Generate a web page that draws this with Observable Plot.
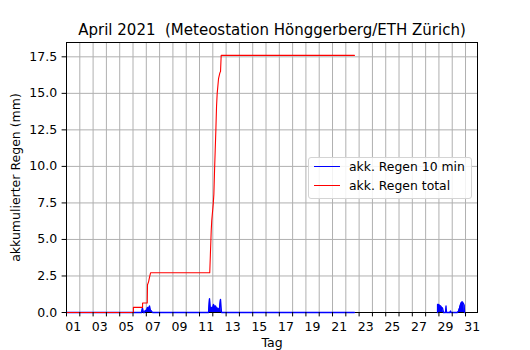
<!DOCTYPE html>
<html>
<head>
<meta charset="utf-8">
<script src="https://cdn.jsdelivr.net/npm/d3@7"></script>
<script src="https://cdn.jsdelivr.net/npm/@observablehq/plot@0.6"></script>
<style>
  html, body { margin: 0; padding: 0; background: white; }
  #chart { position: relative; width: 530px; height: 350px; font-family: "DejaVu Sans", sans-serif; }
  .legend { position: absolute; left: 308px; top: 157px; width: 162px; height: 40px;
            border: 1px solid #d4d4d4; border-radius: 3px; background: rgba(255,255,255,0.85); }
  .legend .sw { position: absolute; left: 5px; width: 26px; height: 1.3px; }
  .legend .lb { position: absolute; left: 40px; font-size: 12.4px; line-height: 14px; color: black; white-space: nowrap; }
</style>
</head>
<body>
<div id="chart"></div>
<script>
// ---- Data (day of April 2021 as fractional day; 1.0 = 1 April 00:00) ----
const titleText = "April 2021  (Meteostation Hönggerberg/ETH Zürich)";
const xLabelText = "Tag";
const yLabelText = "akkumulierter Regen (mm)";
const seriesNames = ["akk. Regen 10 min", "akk. Regen total"];
const seriesColors = ["blue", "red"];

const tickDays = [1,2,3,4,5,6,7,8,9,10,11,12,13,14,15,16,17,18,19,20,21,22,23,24,25,26,27,28,29,30,31];
const labelDays = [1,3,5,7,9,11,13,15,17,19,21,23,25,27,29,31];
const labelTexts = ["01","03","05","07","09","11","13","15","17","19","21","23","25","27","29","31"];
const yTicks = [0, 2.5, 5, 7.5, 10, 12.5, 15, 17.5];

// akk. Regen 10 min (blue)
const blueDay = [1, 6.639, 6.714, 6.789, 6.865, 6.940, 7.015, 7.090, 7.165, 7.241, 7.316, 7.391, 7.466,
  11.677, 11.752, 11.827, 11.902, 11.977, 12.053, 12.128, 12.203, 12.278, 12.353, 12.429, 12.504, 12.579, 12.654,
  22.65, 25,
  28.895, 28.895, 28.970, 29.045, 29.120, 29.195, 29.271, 29.346, 29.496, 29.534, 29.571, 29.835, 29.872, 29.910,
  30.398, 30.474, 30.549, 30.624, 30.699, 30.774, 30.850, 30.902, 30.925];
const blueVal = [0, 0, 0.3, 0, 0, 0.15, 0.1, 0.35, 0.2, 0.45, 0.15, 0.1, 0,
  0, 0.95, 0.2, 0.35, 0.25, 0.55, 0.4, 0.45, 0.3, 0.3, 0.2, 0.3, 0.9, 0,
  0, NaN,
  0, 0.55, 0.55, 0.5, 0.45, 0.35, 0.3, 0, 0, 0.45, 0, 0, 0.1, 0,
  0, 0.1, 0.3, 0.55, 0.7, 0.72, 0.6, 0.5, 0];

// akk. Regen total (red)
const redDay = [1, 6.03, 6.03, 6.72, 6.72, 7.07, 7.09, 7.17, 7.24, 7.32,
  11.77, 11.88, 11.92, 12.03, 12.08, 12.13, 12.18, 12.23, 12.28, 12.33, 12.43, 12.53, 12.58, 12.63, 22.65];
const redVal = [0, 0, 0.35, 0.35, 0.65, 0.65, 1.9, 2.1, 2.4, 2.72,
  2.72, 5.6, 6.3, 7.4, 8.1, 9.7, 11.1, 12.5, 14.1, 15.0, 16.0, 16.4, 16.5, 17.6, 17.6];

// ---- Build tables ----
const blue = blueDay.map((d, i) => ({day: d, v: blueVal[i]}));
const red = redDay.map((d, i) => ({day: d, v: redVal[i]}));
const labelMap = new Map(labelDays.map((d, i) => [d + 0.5, labelTexts[i]]));

const chart = Plot.plot({
  width: 530,
  height: 350,
  marginLeft: 66,
  marginRight: 53,
  marginTop: 42,
  marginBottom: 38,
  style: {fontFamily: "DejaVu Sans, sans-serif", fontSize: "12.5px", background: "white", color: "black", overflow: "visible"},
  x: {domain: [1, 31.9], axis: null},
  y: {domain: [0, 18.48], axis: null},
  marks: [
    Plot.gridX(tickDays, {stroke: "#b0b0b0", strokeOpacity: 1, strokeWidth: 1}),
    Plot.gridY(yTicks, {stroke: "#b0b0b0", strokeOpacity: 1, strokeWidth: 1}),
    Plot.frame({stroke: "black", strokeWidth: 1}),
    Plot.areaY(blue, {x: "day", y: "v", fill: seriesColors[0], fillOpacity: 1}),
    Plot.line(blue, {x: "day", y: "v", stroke: seriesColors[0], strokeWidth: 1.3}),
    Plot.line(red, {x: "day", y: "v", stroke: seriesColors[1], strokeWidth: 1.1}),
    Plot.axisY(yTicks, {tickSize: 4.4, tickPadding: 5, tickFormat: d3.format(".1f"), label: null}),
    Plot.axisX(tickDays, {tickSize: 4.4, tickFormat: () => "", label: null}),
    Plot.axisX(labelDays.map(d => d + 0.5), {tickSize: 0, tickPadding: 9.5, tickFormat: d => labelMap.get(d), label: null}),
    Plot.text([titleText], {frameAnchor: "top", dy: -7.5, lineAnchor: "bottom", fontSize: 15}),
    Plot.text([xLabelText], {frameAnchor: "bottom", dy: 34, lineAnchor: "bottom", fontSize: 12.5}),
    Plot.text([yLabelText], {frameAnchor: "left", dx: -51, rotate: -90, textAnchor: "middle", lineAnchor: "middle", fontSize: 12.5})
  ]
});

const root = document.getElementById("chart");
root.appendChild(chart);

// Legend
const legend = document.createElement("div");
legend.className = "legend";
seriesNames.forEach((name, i) => {
  const cy = 8.5 + i * 19.3;
  const sw = document.createElement("div");
  sw.className = "sw";
  sw.style.top = (cy - 0.6) + "px";
  sw.style.background = seriesColors[i];
  const lb = document.createElement("div");
  lb.className = "lb";
  lb.style.top = (cy - 7) + "px";
  lb.textContent = name;
  legend.appendChild(sw);
  legend.appendChild(lb);
});
root.appendChild(legend);
</script>
</body>
</html>
